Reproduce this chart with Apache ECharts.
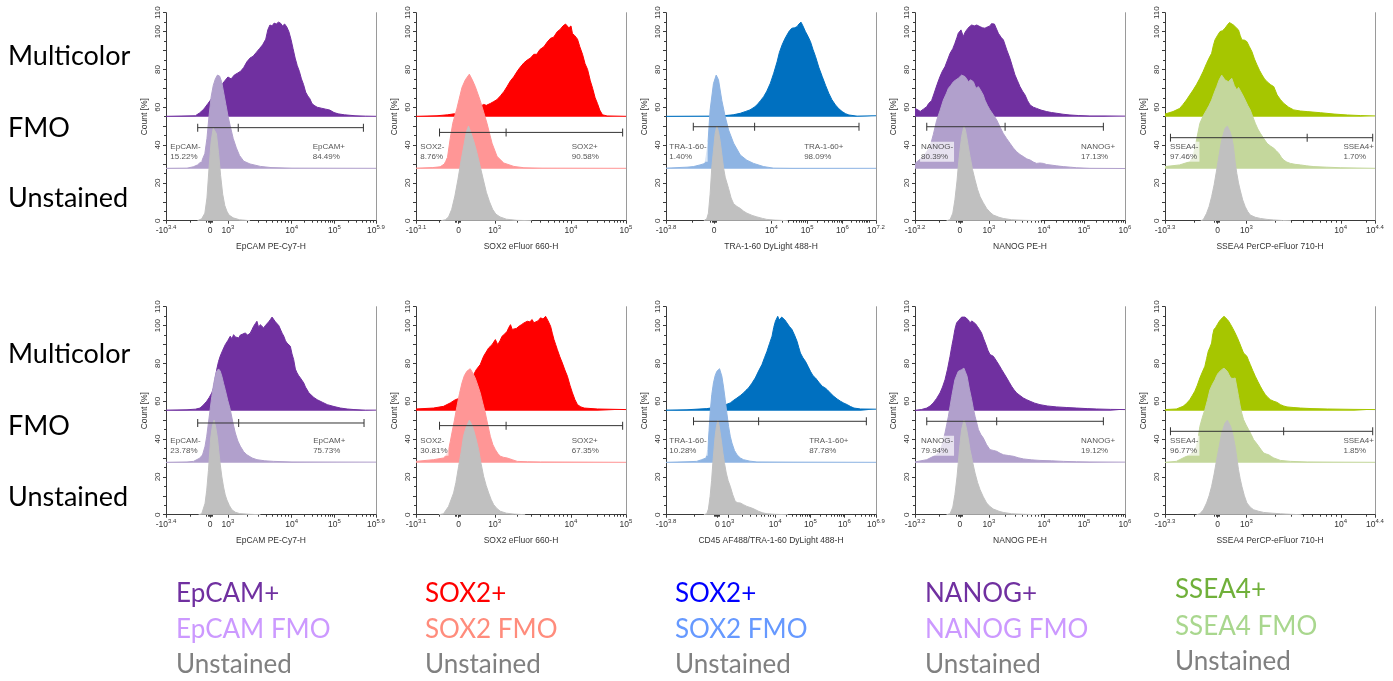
<!DOCTYPE html>
<html>
<head>
<meta charset="utf-8">
<script src="https://cdn.jsdelivr.net/npm/echarts@6/dist/echarts.min.js"></script>
<style>
html,body{margin:0;padding:0;background:#fff;}
#chart{width:1393px;height:681px;}
</style>
</head>
<body>
<div id="chart"></div>
<script>
// ---------------- DATA (x in display channel 0-100, y = % of max count, peak normalised to 50) -------------
// Row 1 — EpCAM
const r1EpcamUnst  = [[15,0],[17,1],[18.5,4],[19.5,12],[20.5,28],[21.5,42],[22.5,49],[23.2,50],[24,46],[25,36],[26,24],[27,14],[28,8],[29,5],[30,3],[32,1.5],[35,0.5],[40,0]];
const r1EpcamFmo   = [[0,0.2],[10,0.3],[13,1],[15,2],[17,4],[18.5,8],[19.5,16],[20.5,28],[21.5,38],[22.5,44],[23.5,47.5],[24.5,49.5],[25.5,49],[26.5,46],[27.5,40],[28.5,34],[29.5,28],[30.5,23],[32,16],[33.5,11],[35,7],[37,4],[40,2.5],[45,1.2],[50,0.6],[60,0.3],[100,0.2]];
const r1EpcamMulti = [[0,0.2],[14,0.5],[16,2],[18,4],[20,7],[22,10],[24,13],[26,16],[28,19],[29.5,21],[31,20],[32.5,22],[34,23],[35.5,24],[37,26],[38.5,29],[40,31],[41.5,32],[43,34],[44.5,36],[46,38],[47.5,41],[48.5,46],[49.5,48.5],[50.5,48],[51.5,49.5],[52.5,49],[53.5,50],[54.5,49.5],[55.5,48],[56.5,49],[57.5,47.5],[58.5,45],[59.5,41],[60.5,36],[61.5,31],[62.5,27],[63.5,24],[64.5,20],[65.5,17],[66.5,13],[67.5,11],[68.5,9.5],[69.5,7],[70.5,6],[72,5],[74,4.5],[76,4],[78,3.5],[80,2.2],[82,1.5],[85,1],[90,0.5],[95,0.3],[100,0.2]];
// Row 1 — SOX2
const r1Sox2Unst  = [[12,0],[14,0.5],[15.5,2],[17,6],[18.5,13],[20,22],[21.5,32],[23,41],[24,47],[25,50],[26,47],[27.5,42],[29,36],[30.5,29],[32,22],[33.5,15],[35,10],[36.5,6],[38,3.5],[40,2],[43,0.8],[48,0.2],[55,0]];
const r1Sox2Fmo   = [[0,0.3],[8,0.6],[11.5,1],[13.5,2.5],[15,6],[16.3,16],[17.5,24],[19.5,32],[21.9,43],[23.5,47],[25.4,50],[26.8,47],[28.2,43.5],[30.6,36],[32.2,30],[33.8,24],[36.2,13.5],[38.6,6.5],[41.8,3],[46.6,1.2],[51.4,0.5],[60,0.3],[100,0.2]];
const r1Sox2Multi = [[0,0.2],[10,0.5],[15,1],[18,1.5],[21,1.2],[24,2],[27,3],[30,5],[32.2,6.5],[33.5,6],[35.4,7],[37,8],[38.5,9],[40.2,11],[42,13.5],[43.4,16],[45,19],[46.5,21],[48.2,24],[49.5,26],[51.4,28.5],[53,30],[54.5,31],[56.1,33],[57.5,33],[59,35.5],[60.9,37],[62.5,39.5],[64.1,41.5],[65.5,42],[67.3,45],[68.5,46],[70,48],[71.2,49],[71.8,50],[72.8,47],[73.8,48],[74.5,44],[75.5,43],[76.9,41],[78,37],[79.3,33],[80.5,28],[81.7,25],[83,19],[84.1,15],[85.3,10],[86.4,7],[87.5,3.5],[88.8,1],[91,0.4],[100,0.2]];
// Row 1 — TRA-1-60
const r1TraUnst  = [[18,0],[19.4,1],[20.2,4],[21,14],[21.8,28],[22.6,37],[23.4,46],[24.2,50],[25,47],[25.8,42],[26.6,35],[27.4,28],[28.2,23],[29.8,17],[31,12],[32.2,9],[33.8,7.5],[35.4,6.5],[37,5],[38.5,4],[41,2.8],[43.3,2],[46,1.2],[48,0.7],[52,0.3],[58,0]];
const r1TraFmo   = [[0,0.3],[10,0.8],[13,1.1],[16.2,2],[18.6,2.8],[19.9,12],[21,31],[22.6,45],[23.9,49.5],[25,47],[26.6,36],[28.2,27.5],[29.8,20.5],[32.2,13.5],[35.4,7.2],[38.5,4.5],[41.7,2.8],[46.5,1.1],[51.3,0.3],[60,0.2],[100,0.2]];
const r1TraMulti = [[0,0.2],[20,0.3],[27.4,0.5],[32,1],[35.4,1.8],[38,2.8],[40,3.6],[42,5],[43.3,6.2],[45,8.5],[46.5,10.6],[48,13.5],[49.7,17.7],[51.3,23],[52.9,29],[54,34],[55.3,38],[56.5,41],[57.6,43.2],[58.8,45.5],[60,46.8],[61.2,47],[62.4,47.6],[63.3,49],[64.3,50],[65.2,48],[66.4,45],[67.6,42.5],[68.8,39.7],[70,35.5],[71.2,31.8],[72.8,26],[74.4,21.2],[76,16.5],[77.5,12.4],[79,9],[80.7,6.2],[82.3,4.2],[83.9,2.7],[85.5,1.6],[87.1,0.9],[91,0.3],[100,0.5]];
// Row 1 — NANOG
const r1NanogUnst  = [[15,0],[16.7,0.5],[18,4],[19,11],[20,21],[20.6,28.6],[21.4,37],[22.2,44.4],[23.3,50],[24,48],[24.6,44.4],[25.4,39],[26.2,34],[27.4,27],[28.6,21.5],[29.8,16.5],[31,12.7],[32.5,9.5],[34.1,6.5],[35.7,4.5],[37.3,3],[40,1.8],[42,1.2],[46,0.5],[52,0.2],[60,0]];
const r1NanogFmo   = [[0,2.8],[4,6.4],[7.1,11.5],[8.7,18],[10.3,25.5],[12,31],[13.5,36.3],[15,40],[15.9,42.5],[17,44],[18.3,46],[19.5,47],[20.6,47.8],[21.4,48.5],[22.2,49.5],[23,50],[23.8,48.7],[24.6,47.5],[25.4,46],[26.5,47],[27.8,46],[29,42.5],[30.2,43.4],[31,42],[31.7,41.5],[32.5,39],[33.3,36.3],[34.5,33.5],[35.7,31.1],[37.3,28.5],[38.9,25.8],[40.5,22],[42,18.7],[43.6,16],[45.2,13.5],[46.8,11],[48.4,9],[50,7.5],[51.6,6.4],[53.2,5.2],[54.8,4.6],[56.4,3.5],[57.9,2.8],[59.5,3],[61.1,2.8],[62.7,2.2],[64.3,2],[67.5,1.5],[70.6,1.1],[74,0.8],[77,0.5],[83.3,0.2],[100,0.1]];
const r1NanogMulti = [[0,4.4],[1.5,3.5],[2.5,2.8],[4,4],[5.6,5.3],[6.5,7],[7.9,8.5],[9,12],[10.5,17],[11.9,21.2],[13,24],[14.3,26.5],[15.5,30],[16.7,33.5],[18,36],[19,38.8],[20,42],[20.6,44.1],[21.9,45.9],[23,42.4],[23.8,44.5],[24.6,45.9],[25.8,47.5],[27,48.5],[28.2,48],[29.4,48.5],[30.2,48],[31,47.6],[32.2,47],[33.3,46.8],[34.5,47.5],[35.7,48],[36.4,49.2],[37,49.8],[37.8,49],[38.6,48.5],[39.7,44.1],[41,42],[42.1,40.6],[43.7,35.3],[45.2,30.9],[46.4,26.5],[47.6,22.1],[48.8,19],[50,15.9],[51.2,13.5],[52.4,11.5],[53.6,8.5],[54.8,6.2],[56.4,5],[57.9,4.4],[60,3.5],[62.7,2.7],[65,2.2],[67.5,1.8],[70.5,1.3],[73.8,0.9],[78,0.6],[83.3,0.4],[90,0.4],[100,0.3]];
// Row 1 — SSEA4
const r1Ssea4Unst  = [[17,0],[18.2,0.5],[19.8,3.9],[21,7.5],[22.2,12.7],[23.4,19],[24.6,26.8],[25.8,35],[27,42.7],[28.6,48.9],[29.7,50],[31,47],[31.8,44],[32.6,39.2],[33.4,31],[34.2,25],[35,20],[35.8,16.2],[37,11],[38.2,7.4],[39.4,4.8],[40.6,3],[43,1.8],[45.4,1.2],[48.6,0.7],[51.8,0.4],[56,0.1],[60,0]];
const r1Ssea4Fmo   = [[0,1.1],[7,2],[11.8,3.7],[13.4,6.4],[15,15.2],[16.6,24],[18.2,28],[19.8,31.1],[21,33.5],[22.2,36.3],[23.4,40],[24.6,43.4],[25.8,47],[27,49.5],[27.8,48.5],[28.6,46.9],[29.4,47.5],[30.2,46],[31,47],[31.8,47.8],[33,44],[34.2,41.6],[35,43],[35.8,43.4],[37,39],[38.2,36.3],[39.4,33.5],[40.6,31.1],[41.8,27.5],[43,24],[44.2,21],[45.4,18.7],[47,16],[48.6,13.4],[50.2,12],[51.8,10.8],[53,9.5],[54.2,8.1],[55.4,6],[56.5,4.6],[58,3.5],[59.7,2.8],[62,2.3],[64.5,2],[67.5,1.5],[70.9,1.1],[77,0.8],[83.7,0.5],[100,0.2]];
const r1Ssea4Multi = [[0,1.4],[3.8,2.7],[7,4.4],[8.6,6.5],[10.2,8.8],[11.8,11.5],[13.4,14.1],[15,17],[16.6,20.3],[18.2,24],[19.8,28.2],[21,31],[22.2,33.5],[23,37.5],[23.8,40.6],[25,43],[26.2,45],[27.4,45.5],[28.6,46.8],[29.7,48.5],[30.7,49.8],[31.6,49],[32.6,48.5],[33.8,47.2],[35,45.9],[35.8,43],[36.6,40.6],[37.8,40.5],[39,39.7],[40.2,37],[41.4,34.4],[42.6,30.5],[43.8,27.4],[45,24.5],[46.2,22.1],[47.4,20],[48.6,18.5],[50.2,17],[51.8,15.9],[53.4,11.5],[55,9],[56.5,7.1],[58.9,5],[61.3,3.6],[64.5,3],[67.7,2.7],[74.1,2.1],[80.5,1.4],[86.9,0.9],[93,0.6],[100,0.4]];
// Row 2 — EpCAM
const r2EpcamUnst  = [[15.5,0],[17,0.5],[18.6,6],[19.4,13],[20.2,23.3],[21.3,40.6],[22.1,47],[22.9,50],[23.7,46],[24.5,40.6],[25.1,34],[25.8,26.8],[26.6,20],[27.4,14.7],[28.2,10.5],[29,7.8],[30.2,4.8],[31.4,2.6],[33,1.3],[35,0.6],[40,0.2],[45,0]];
const r2EpcamFmo   = [[0,0.2],[10,0.4],[13.1,0.7],[16.2,2.5],[17.5,4.5],[18.6,8.7],[19.4,14],[20.2,21],[21,28],[21.8,35],[22.6,41],[23.4,45.7],[24.2,48.5],[25,49.6],[25.8,48.5],[26.6,45.7],[27.4,42],[28.2,38.6],[29.4,33],[30.6,28.1],[31.8,21.5],[33,15.7],[34.2,11.5],[35.4,8.7],[37,5.8],[38.5,4.2],[41,2.5],[43.3,1.6],[47,1],[51.3,0.7],[60,0.4],[100,0.3]];
const r2EpcamMulti = [[0,0.3],[10,0.5],[14,0.8],[16.2,1.4],[17.8,3],[19.4,5],[20.6,7],[21.8,9.4],[22.6,12],[23.4,17],[24.2,22],[25,26],[25.8,28.8],[27,32],[28.2,34.9],[29.4,37],[30.6,39.4],[31.4,38],[32.2,40.2],[33,39],[33.8,40],[34.6,38.5],[35.4,40],[36.5,40.5],[37.7,41.1],[38.9,40],[40.1,41],[41,43],[41.7,44.6],[42.5,46],[43.3,47.3],[44.1,44],[44.9,45.5],[45.7,46],[46.5,43.8],[47.3,45],[48.1,46],[48.9,47],[49.7,48.2],[50.5,49.5],[51.3,49.9],[52.1,47],[52.9,46.4],[53.7,45],[54.5,44.6],[55.3,41],[56.1,39.4],[56.9,37],[57.6,35.8],[58.4,35],[59.2,34.1],[60,30],[60.8,27],[61.6,22],[62.4,20],[63.2,18.5],[64,17.3],[64.8,16.5],[65.6,14.7],[66.4,12.5],[67.2,11.1],[68,9.5],[68.8,8.5],[70.4,7],[72,5.8],[74.4,4.5],[76.8,3.2],[80,2.2],[83.1,1.4],[86.3,0.9],[89.5,0.6],[95,0.3],[100,0.3]];
// Row 2 — SOX2
const r2Sox2Unst  = [[11,0],[13.1,0.5],[15.5,4.4],[17.9,11.5],[19,17],[20.3,25.6],[21.5,33],[22.6,41.4],[23.8,46],[25.4,50],[26.4,48],[27.4,45],[28.6,40],[29.8,34.4],[31,27],[32.2,20.3],[33.4,15.5],[34.6,11.5],[35.8,8],[37,5.3],[38.6,3.2],[40.2,1.8],[43,0.8],[47,0.3],[52,0]];
const r2Sox2Fmo   = [[0,0.7],[8.3,1.6],[13.1,2.5],[14.5,4],[15.5,6.9],[16.3,11],[17.1,15.7],[18.3,22.5],[19.5,29.8],[20.7,36.5],[21.9,42.2],[23,46],[24.2,48.3],[25.8,49.7],[27,47.5],[28.2,44.8],[29.4,41],[30.6,36.9],[31.8,31.5],[33,26.3],[34.2,20],[35.4,13.9],[36.6,9.5],[37.8,6.9],[39,4.8],[40.2,3.4],[41.8,2.8],[43.4,2.5],[45.8,1.6],[48.2,0.7],[53,0.5],[59.3,0.4],[80,0.3],[100,0.2]];
const r2Sox2Multi = [[0,0.9],[8.3,1.4],[13.1,2.3],[16.3,4.1],[18.7,5.8],[20.5,6.5],[22.5,8],[24.5,12],[26.5,17],[28.7,21.7],[30.6,24.4],[32.2,28.8],[33.4,31],[34.6,33.2],[36.2,34.9],[37.8,37.6],[38.9,34.9],[40,37],[41,39.4],[42.2,40.5],[43.4,42],[44.2,44],[45,45.5],[45.8,43],[46.6,42],[47.8,43.5],[49,44.6],[50.2,45.5],[51.4,46.4],[53,47.3],[54.2,47],[55.3,48.2],[56.1,46.5],[56.9,45.5],[58.1,47.5],[59.3,49.1],[60.5,48.5],[61.7,49.9],[62.9,47.5],[64.1,44.6],[64.9,41],[65.7,37.6],[66.5,35],[67.3,32.3],[68.5,28.5],[69.7,25.2],[70.9,21.5],[72.1,18.2],[73.3,13.5],[74.5,9.4],[75.7,5.8],[76.9,3.2],[78.5,2],[80.1,1.4],[86.4,0.9],[100,0.6]];
// Row 2 — CD45/TRA-1-60
const r2TraUnst  = [[18,0],[19.4,0.5],[20.2,3],[21,9.7],[21.7,18],[22.3,27.3],[22.9,35],[23.4,41.4],[24,46.5],[24.7,50],[25.3,47],[25.8,43.2],[26.5,38],[27.1,32.6],[27.9,27],[28.7,22],[29.6,18],[30.6,15],[31.8,10.5],[33,7],[34.2,6.3],[35.4,6.2],[36.9,5.3],[38.5,4.4],[40.9,3.5],[42.5,2.7],[44.1,1.8],[46,1],[48.1,0.5],[52,0.2],[58,0]];
const r2TraFmo   = [[0,0.2],[10,0.5],[14.6,0.7],[17,1.6],[19.1,2.5],[19.9,7],[20.5,17],[21,26.3],[21.8,36],[22.6,42.2],[23.4,46],[24.2,48.3],[25.5,49.7],[26.6,45.7],[27.4,40],[28.2,33.3],[29,26],[29.8,19.2],[30.6,14],[31.4,10.4],[32.6,6.5],[33.8,4.2],[35.4,2.5],[36.9,1.6],[40,0.8],[43.3,0.4],[60,0.3],[100,0.2]];
const r2TraMulti = [[0,0.3],[10,0.5],[19.4,1.1],[25,2],[28,3],[30.6,4.1],[32.2,5.5],[33.8,6.7],[35.4,8],[36.9,9.4],[38.1,10.8],[39.3,12],[40.9,14.5],[42.5,17.3],[44.1,21],[45.7,24.4],[46.9,28],[48.1,31.4],[49.3,35.5],[50.5,39.4],[51.3,44],[52.1,47.3],[53.2,49.9],[53.9,48],[54.5,48.2],[55.1,49.5],[55.7,49.9],[56.6,48],[57.6,46.4],[58.8,44.5],[60,42.9],[61.2,40],[62.4,36.7],[63.2,33.5],[64,30.5],[65.2,28],[66.4,26.1],[67.6,23.5],[68.8,20.8],[70,18.5],[71.2,17.3],[72.8,15],[74.4,12.9],[75.6,12.2],[76.8,11.1],[78.4,9.2],[79.9,7.6],[81.5,6.2],[83.1,5],[84.7,4],[86.3,3.2],[87.9,2.2],[89.5,1.4],[92.7,0.9],[100,0.8]];
// Row 2 — NANOG
const r2NanogUnst  = [[15,0],[16.7,0.5],[18,4],[19,10.6],[20,20],[20.6,27.3],[21.4,37],[22.2,45],[23.3,50],[24,48],[24.6,45],[25.4,40],[26.2,34.4],[27.4,28],[28.6,22],[29.8,17],[31,13.2],[32.5,9.5],[34.1,6.2],[35.7,4.3],[37.3,3],[40,1.8],[42,1.2],[46,0.5],[52,0.2],[60,0]];
const r2NanogFmo   = [[0,0.4],[5.6,1.6],[10.3,4.2],[12.7,8.7],[14.3,15.7],[15.9,24.5],[17.5,35.1],[19,43.9],[20.6,48.3],[22.2,49.2],[23.3,50],[24,48],[24.8,45.7],[25.9,39],[27,33.3],[27.8,28.5],[28.6,24.5],[29.4,21],[30.2,17.5],[31.3,15],[32.5,13.1],[34.1,9.5],[35.7,6.9],[37.3,6.5],[38.9,6],[40.5,5],[42.1,4.2],[44.4,3.8],[46.8,3.4],[49.2,2.6],[51.6,2],[55.5,1.5],[59.5,1.2],[65,1],[70.6,0.7],[77,0.5],[83.3,0.4],[100,0.3]];
const r2NanogMulti = [[0,0.2],[3,0.6],[5.6,1.4],[7.2,2.5],[8.7,4.1],[10.3,6.5],[11.9,9.4],[13.1,12.5],[14.3,16.4],[15.5,22],[16.7,28.8],[17.5,34],[18.3,38.5],[19,43],[19.8,46.4],[20.6,47.5],[21.4,48.2],[22.2,49.5],[23,49.9],[23.8,49.5],[24.6,49.1],[25.4,48],[26.2,46.4],[27,47.5],[27.8,48.2],[28.8,46],[29.7,44.6],[30.7,43],[31.7,41.1],[32.7,38],[33.8,34.9],[34.7,32],[35.7,29.7],[36.5,29.5],[37.3,28.8],[38.1,27.5],[38.9,26.1],[40.1,24],[41.3,21.7],[42.5,19.5],[43.7,17.3],[44.9,15],[46,12.9],[47.2,11],[48.4,9.4],[50,8],[51.6,6.7],[53.2,5.8],[54.8,5],[57,4],[59.5,3.2],[63,2.5],[67.5,2],[72,1.7],[77,1.4],[82,1.1],[86.5,0.9],[93,0.7],[100,0.6]];
// Row 2 — SSEA4
const r2Ssea4Unst  = [[15,0],[16.6,0.5],[18.2,2.5],[19.8,6.2],[21,10],[22.2,15],[23.4,21.5],[24.6,29.1],[25.8,36],[27,43.2],[28.6,48.5],[29.7,50],[30.5,49],[31.3,46.7],[32.4,42],[33.4,36.2],[34.2,30],[35,23.8],[35.8,19],[36.6,15],[37.8,10],[39,6.2],[40.6,4],[42.2,2.6],[44.6,1.8],[47,1.2],[51,0.8],[55,0.5],[60,0.2],[65,0]];
const r2Ssea4Fmo   = [[0,0.2],[5.4,0.7],[8.6,2.5],[11.8,4.2],[13.4,5.5],[15,8.7],[15.8,13],[16.6,19.2],[17.8,24],[19,28.1],[20.2,33],[21.4,38.6],[22.6,41.5],[23.8,43.9],[24.6,46],[25.4,47.5],[26.2,48.5],[27,49.2],[28.1,50],[28.9,49],[29.7,48.3],[30.5,46.5],[31.3,44.8],[32.4,44.5],[33.4,44.8],[34.2,40],[35,35.1],[35.8,30],[36.6,26],[37.4,22.8],[38.6,20],[39.8,17.5],[41,15],[42.2,12.2],[43.4,10.5],[44.6,8.7],[45.8,6.8],[47,5.1],[48.2,4.6],[49.4,4.2],[50.6,3.3],[51.8,2.5],[55,1.2],[59.7,0.7],[67.7,0.4],[80,0.3],[100,0.2]];
const r2Ssea4Multi = [[0,0.6],[5.4,0.9],[8.6,2.3],[10.2,3.8],[11.8,5.8],[13,8],[14.2,10.3],[15.4,13.5],[16.6,17.3],[17.8,20.5],[19,23.5],[19.8,27.5],[20.6,31.4],[21.4,33.5],[22.2,35.8],[22.7,40],[23.3,42.9],[24.1,44],[24.9,45.5],[25.7,47],[26.5,48.2],[27.3,49],[28.1,49.9],[28.9,49],[29.7,48.2],[30.5,47],[31.3,45.5],[32.3,43.5],[33.4,41.1],[34.5,38.5],[35.5,35.8],[36.5,33],[37.4,30.5],[38.2,29.5],[39,28.8],[39.8,26.5],[40.6,24.4],[41.8,21.2],[43,18.2],[44.2,15.5],[45.4,12.9],[46.6,10.5],[47.8,8.5],[49,7],[50.2,5.8],[51.8,5],[53.4,4.4],[55,3.2],[56.5,2.5],[58.1,2],[61,1.7],[64.5,1.4],[70,1.1],[77.3,0.9],[90,0.7],[100,0.6]];

// tick labels of the biexponential axes (channel position, label)
const ticksEpcam = [[0,'-10^3.4'],[21,'0'],[29.5,'10^3'],[59.8,'10^4'],[80.2,'10^5'],[100,'10^5.9']];
const ticksSox2  = [[0,'-10^3.1'],[20.3,'0'],[37.5,'10^3'],[73.8,'10^4'],[100,'10^5']];
const ticksTra1  = [[0,'-10^3.8'],[22.9,'0'],[50.2,'10^4'],[67.2,'10^5'],[84,'10^6'],[100,'10^7.2']];
const ticksTra2  = [[0,'-10^3.8'],[24.5,'0'],[29.5,'10^3'],[52,'10^4'],[68.8,'10^5'],[85,'10^6'],[100,'10^6.9']];
const ticksNanog = [[0,'-10^3.2'],[21.4,'0'],[35.2,'10^3'],[61.4,'10^4'],[80.5,'10^5'],[100,'10^6']];
const ticksSsea4 = [[0,'-10^3.3'],[25.1,'0'],[38.8,'10^3'],[83.7,'10^4'],[100,'10^4.4']];

// axis titles
const axisTitles = ['EpCAM PE-Cy7-H','SOX2 eFluor 660-H','TRA-1-60 DyLight 488-H','NANOG PE-H','SSEA4 PerCP-eFluor 710-H',
                    'EpCAM PE-Cy7-H','SOX2 eFluor 660-H','CD45 AF488/TRA-1-60 DyLight 488-H','NANOG PE-H','SSEA4 PerCP-eFluor 710-H'];
// gates: [left bound, divider, right bound, height %]
const gates = [[15.1,34.4,94.0,49.2],[11.2,42.9,98.4,46.7],[13,42.2,91.9,49.7],[5.6,42.9,89.7,49.7],[2.6,67.7,98.9,43.9],
               [15.1,34.6,94.3,48.5],[11.2,42.9,98.4,47.1],[13.1,44.1,95.4,49.4],[5.6,38.9,89.7,49.4],[2.6,56.5,98.9,44.1]];
const gateNames = [['EpCAM-','EpCAM+'],['SOX2-','SOX2+'],['TRA-1-60-','TRA-1-60+'],['NANOG-','NANOG+'],['SSEA4-','SSEA4+'],
                   ['EpCAM-','EpCAM+'],['SOX2-','SOX2+'],['TRA-1-60-','TRA-1-60+'],['NANOG-','NANOG+'],['SSEA4-','SSEA4+']];
const gatePcts = [['15.22%','84.49%'],['8.76%','90.58%'],['1.40%','98.09%'],['80.39%','17.13%'],['97.46%','1.70%'],
                  ['23.78%','75.73%'],['30.81%','67.35%'],['10.28%','87.78%'],['79.94%','19.12%'],['96.77%','1.85%']];
const gateLabelX = [[1.6,69.4],[1.6,73.7],[1.1,65.3],[2.4,78.6],[1.9,84.5],[1.6,69.6],[1.6,73.7],[1.1,67.7],[2.4,78.6],[1.9,84.5]];
const gateLabelY = 36.5;

const rowLabels = ['Multicolor','FMO','Unstained'];
const legendTexts = [['EpCAM+','EpCAM FMO','Unstained'],['SOX2+','SOX2 FMO','Unstained'],['SOX2+','SOX2 FMO','Unstained'],['NANOG+','NANOG FMO','Unstained'],['SSEA4+','SSEA4 FMO','Unstained']];

// ---------------- STYLE / LAYOUT -------------
const OFFSETS = {multi: 55, fmo: 27.5, unst: 0};
const palettes = {
  purple: {multi:'#7030A0', fmo:'#B1A0CC'},
  red:    {multi:'#FF0000', fmo:'#FF9696'},
  blue:   {multi:'#0070C0', fmo:'#8EB4E3'},
  green:  {multi:'#A6C600', fmo:'#C4D79C'}
};
const GRAY = '#C0C0C0';
const legendColors = [['#7030A0','#CC99FF','#808080'],['#FF0000','#FF8C7C','#808080'],['#0000FF','#6699FF','#808080'],['#7030A0','#CC99FF','#808080'],['#70B03A','#A9D78E','#808080']];
const COL_LEFT = [166, 416, 666, 915, 1165];
const ROW_TOP = [12.7, 306.7];
const GRID_W = 210, GRID_H = 208;
const SMALL_FONT = 'Liberation Sans, Arial, sans-serif';
const BIG_FONT = 'Lato, Open Sans, sans-serif';

const panels = [
  {unst:r1EpcamUnst, fmo:r1EpcamFmo, multi:r1EpcamMulti, ticks:ticksEpcam, pal:'purple'},
  {unst:r1Sox2Unst, fmo:r1Sox2Fmo, multi:r1Sox2Multi, ticks:ticksSox2, pal:'red'},
  {unst:r1TraUnst, fmo:r1TraFmo, multi:r1TraMulti, ticks:ticksTra1, pal:'blue'},
  {unst:r1NanogUnst, fmo:r1NanogFmo, multi:r1NanogMulti, ticks:ticksNanog, pal:'purple'},
  {unst:r1Ssea4Unst, fmo:r1Ssea4Fmo, multi:r1Ssea4Multi, ticks:ticksSsea4, pal:'green'},
  {unst:r2EpcamUnst, fmo:r2EpcamFmo, multi:r2EpcamMulti, ticks:ticksEpcam, pal:'purple'},
  {unst:r2Sox2Unst, fmo:r2Sox2Fmo, multi:r2Sox2Multi, ticks:ticksSox2, pal:'red'},
  {unst:r2TraUnst, fmo:r2TraFmo, multi:r2TraMulti, ticks:ticksTra2, pal:'blue'},
  {unst:r2NanogUnst, fmo:r2NanogFmo, multi:r2NanogMulti, ticks:ticksNanog, pal:'purple'},
  {unst:r2Ssea4Unst, fmo:r2Ssea4Fmo, multi:r2Ssea4Multi, ticks:ticksSsea4, pal:'green'}
];

// minor ticks of a log-decade axis, placed between labelled decades
function minorTicks(ticks) {
  const out = [];
  const dec = ticks.filter(t => t[1].startsWith('10^')).map(t => [t[0], parseFloat(t[1].slice(3))]);
  for (let i = 0; i < dec.length - 1; i++) {
    const [p, e] = dec[i], [q, f] = dec[i + 1];
    const per = (q - p) / (f - e);
    for (let m = 2; m <= 9; m++) {
      const d = Math.log10(m);
      if (d < f - e - 1e-6) out.push(p + d * per);
    }
  }
  const zero = ticks.find(t => t[1] === '0');
  if (zero) { const z = zero[0]; out.push(z - 1.6, z - 0.9, z - 0.4, z + 0.4, z + 0.9, z * 0.55); }
  return out;
}

function tickLabel(s) {
  const i = s.indexOf('^');
  return i < 0 ? s : s.slice(0, i) + '{s|' + s.slice(i + 1) + '}';
}

const grid = [], xAxis = [], yAxis = [], series = [];
const axisColor = '#3a3a3a';
panels.forEach((p, i) => {
  const row = Math.floor(i / 5), col = i % 5;
  grid.push({left: COL_LEFT[col], top: ROW_TOP[row], width: GRID_W, height: GRID_H});
  const tv = p.ticks.map(t => t[0]);
  xAxis.push({
    gridIndex: i, type: 'value', min: 0, max: 100, position: 'bottom',
    name: axisTitles[i], nameLocation: 'middle', nameGap: 21,
    nameTextStyle: {fontSize: 8.5, color: '#333', fontFamily: SMALL_FONT},
    axisLine: {show: true, onZero: false, lineStyle: {color: axisColor, width: 1}},
    axisTick: {show: true, length: 3, customValues: tv, lineStyle: {color: axisColor}},
    axisLabel: {
      customValues: tv, margin: 4, fontSize: 8.5, lineHeight: 12, color: '#333', fontFamily: SMALL_FONT,
      formatter: v => { const t = p.ticks.find(k => Math.abs(k[0] - v) < 1e-6); return t ? tickLabel(t[1]) : ''; },
      rich: {s: {fontSize: 6, lineHeight: 7, verticalAlign: 'top', color: '#333', fontFamily: SMALL_FONT}}
    },
    splitLine: {show: false}
  });
  xAxis.push({
    gridIndex: i, type: 'value', min: 0, max: 100, position: 'bottom',
    axisLine: {show: false, onZero: false},
    axisTick: {show: true, length: 2, customValues: minorTicks(p.ticks), lineStyle: {color: axisColor}},
    axisLabel: {show: false}, splitLine: {show: false}
  });
  yAxis.push({
    gridIndex: i, type: 'value', min: 0, max: 110, interval: 10, position: 'left',
    name: 'Count [%]', nameLocation: 'middle', nameGap: 17,
    nameTextStyle: {fontSize: 8.5, color: '#333', fontFamily: SMALL_FONT},
    axisLine: {show: true, onZero: false, lineStyle: {color: axisColor}},
    axisTick: {show: true, length: 3, lineStyle: {color: axisColor}},
    minorTick: {show: true, splitNumber: 2, length: 2, lineStyle: {color: axisColor}},
    axisLabel: {rotate: 90, margin: 4, fontSize: 8, color: '#333', fontFamily: SMALL_FONT,
      formatter: v => (v % 20 === 0 || v === 110) ? String(v) : ''},
    splitLine: {show: false}
  });
  yAxis.push({
    gridIndex: i, type: 'value', min: 0, max: 110, position: 'right',
    axisLine: {show: true, onZero: false, lineStyle: {color: '#9a9a9a'}},
    axisTick: {show: false}, axisLabel: {show: false}, splitLine: {show: false}
  });
  const xi = 2 * i, yi = 2 * i;
  const pal = palettes[p.pal];
  const layers = [[p.multi, OFFSETS.multi, pal.multi], [p.fmo, OFFSETS.fmo, pal.fmo], [p.unst, OFFSETS.unst, GRAY]];
  layers.forEach(([d, off, c], k) => {
    series.push({
      type: 'line', xAxisIndex: xi, yAxisIndex: yi, silent: true, z: 2 + k,
      data: d.map(([x, v]) => [x, off + v]),
      symbol: 'none', smooth: false,
      lineStyle: {color: c, width: 1},
      itemStyle: {color: c},
      areaStyle: {color: c, opacity: 1, origin: off}
    });
  });
  const g = gates[i];
  series.push({
    type: 'line', xAxisIndex: xi, yAxisIndex: yi, silent: true, z: 6,
    data: [[g[0], g[3]], [g[1], g[3]], [g[2], g[3]]],
    symbol: 'rect', symbolSize: [1, 8], showSymbol: true, showAllSymbol: true,
    lineStyle: {color: '#333', width: 1}, itemStyle: {color: '#333'}
  });
  series.push({
    type: 'scatter', xAxisIndex: xi, yAxisIndex: yi, silent: true, symbolSize: 0, z: 7,
    data: [0, 1].map(k => ({value: [gateLabelX[i][k], gateLabelY],
      label: {formatter: gateNames[i][k] + '\n' + gatePcts[i][k]}})),
    label: {show: true, position: 'right', distance: 0, fontSize: 8, lineHeight: 9.5, color: '#2a2a2a',
      fontFamily: SMALL_FONT, backgroundColor: 'rgba(255,255,255,0.85)', padding: [1, 1, 0, 1]}
  });
});

const graphic = [];
ROW_TOP.forEach((top, r) => {
  const ys = r === 0 ? [56, 128, 198] : [354, 426, 497];
  rowLabels.forEach((t, k) => graphic.push({type: 'text', x: 8, y: ys[k], silent: true,
    style: {text: t, fontSize: 27, fontFamily: BIG_FONT, fill: '#000', verticalAlign: 'middle'}}));
});
const legX = [176, 425, 675, 925, 1175];
legendTexts.forEach((col, c) => {
  const ys = c === 4 ? [590, 627, 662] : [594, 630, 665];
  col.forEach((t, k) => graphic.push({type: 'text', x: legX[c], y: ys[k], silent: true,
    style: {text: t, fontSize: 26, fontFamily: BIG_FONT, fill: legendColors[c][k], verticalAlign: 'middle'}}));
});

const chart = echarts.init(document.getElementById('chart'), null, {renderer: 'canvas'});
chart.setOption({animation: false, backgroundColor: '#fff', grid, xAxis, yAxis, series, graphic});
</script>
</body>
</html>
